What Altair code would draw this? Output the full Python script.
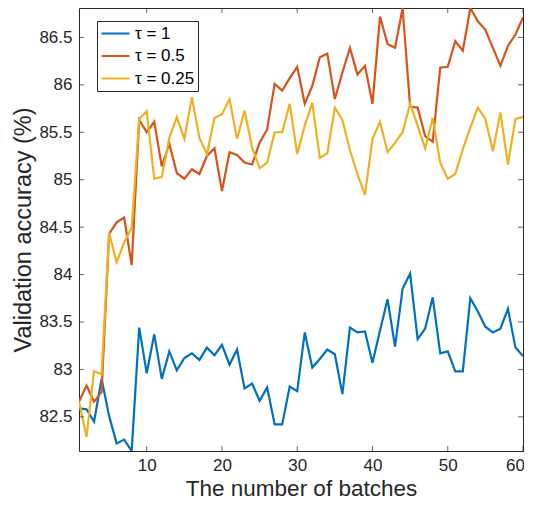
import altair as alt
import pandas as pd

batches = list(range(1, 61))

tau_1 = [82.59, 82.58, 82.45, 82.90, 82.51, 82.22, 82.26, 82.14, 83.44, 82.96,
         83.37, 82.90, 83.19, 82.99, 83.12, 83.17, 83.10, 83.23, 83.15, 83.26,
         83.05, 83.21, 82.80, 82.85, 82.67, 82.81, 82.42, 82.42, 82.82, 82.77,
         83.39, 83.02, 83.11, 83.21, 83.16, 82.74, 83.44, 83.39, 83.40, 83.07,
         83.41, 83.74, 83.24, 83.85, 84.01, 83.32, 83.43, 83.76, 83.17, 83.19,
         82.98, 82.98, 83.75, 83.61, 83.45, 83.39, 83.43, 83.64, 83.23, 83.14]

tau_05 = [82.66, 82.83, 82.66, 82.76, 84.43, 84.55, 84.60, 84.10, 85.63, 85.50,
          85.61, 85.14, 85.38, 85.07, 85.01, 85.11, 85.06, 85.25, 85.33, 84.88,
          85.29, 85.26, 85.18, 85.16, 85.39, 85.53, 86.01, 85.94, 86.07, 86.19,
          85.80, 85.99, 86.29, 86.33, 85.85, 86.13, 86.39, 86.11, 86.20, 85.80,
          86.72, 86.43, 86.39, 86.81, 85.77, 85.76, 85.46, 85.40, 86.18, 86.19,
          86.46, 86.36, 86.81, 86.67, 86.58, 86.39, 86.20, 86.41, 86.53, 86.71]

tau_025 = [82.66, 82.29, 82.98, 82.95, 84.44, 84.13, 84.34, 84.49, 85.64, 85.72,
           85.01, 85.03, 85.44, 85.66, 85.43, 85.87, 85.44, 85.27, 85.65, 85.69,
           85.85, 85.43, 85.73, 85.34, 85.12, 85.18, 85.50, 85.50, 85.80, 85.27,
           85.57, 85.81, 85.23, 85.28, 85.76, 85.63, 85.31, 85.06, 84.84, 85.43,
           85.61, 85.29, 85.39, 85.50, 85.80, 85.57, 85.33, 85.65, 85.18, 85.01,
           85.06, 85.32, 85.55, 85.76, 85.64, 85.30, 85.71, 85.16, 85.64, 85.66]

series_names = ["τ = 1", "τ = 0.5", "τ = 0.25"]
series_colors = ["#0072BD", "#D95319", "#EDB120"]
x_ticks = [10, 20, 30, 40, 50, 60]
y_ticks = [82.5, 83, 83.5, 84, 84.5, 85, 85.5, 86, 86.5]
x_domain = [1, 60]
y_domain = [82.14, 86.81]

rows = []
for name, vals in zip(series_names, [tau_1, tau_05, tau_025]):
    for b, v in zip(batches, vals):
        rows.append({"batch": b, "acc": v, "series": name})
df = pd.DataFrame(rows)

W, H = 444, 443
FONT = "Liberation Sans"
INK = "#262626"

x_enc = alt.X("batch:Q", scale=alt.Scale(domain=x_domain, nice=False, zero=False),
              axis=alt.Axis(values=x_ticks, title="The number of batches"))
y_enc = alt.Y("acc:Q", scale=alt.Scale(domain=y_domain, nice=False, zero=False),
              axis=alt.Axis(values=y_ticks, format="~g", title="Validation accuracy (%)"))

color_enc = alt.Color(
    "series:N",
    scale=alt.Scale(domain=series_names, range=series_colors),
    legend=alt.Legend(title=None, orient="none", legendX=18, legendY=13),
)

base = alt.Chart(df).mark_line(strokeWidth=2.2, clip=True).encode(
    x=x_enc, y=y_enc, color=color_enc
)
lines = [base.transform_filter(alt.datum.series == n) for n in series_names]

xt = pd.DataFrame({"batch": x_ticks})
yt = pd.DataFrame({"acc": y_ticks})

tick_bottom = alt.Chart(xt).mark_tick(size=5, thickness=1, color=INK).encode(
    x=x_enc, y=alt.value(H - 2.5))
tick_top = alt.Chart(xt).mark_tick(size=5, thickness=1, color=INK).encode(
    x=x_enc, y=alt.value(2.5))
tick_left = alt.Chart(yt).mark_tick(size=5, thickness=1, color=INK).encode(
    y=y_enc, x=alt.value(2.5))
tick_right = alt.Chart(yt).mark_tick(size=5, thickness=1, color=INK).encode(
    y=y_enc, x=alt.value(W - 2.5))

chart = alt.layer(*lines, tick_bottom, tick_top, tick_left, tick_right).properties(
    width=W, height=H,
    autosize=alt.AutoSizeParams(type="none"),
    padding={"left": 71, "top": 0, "right": 1, "bottom": 49},
).configure_view(
    stroke=INK, strokeWidth=1
).configure_axis(
    grid=False, domain=False, ticks=False, tickSize=0,
    labelFlush=True, labelFlushOffset=1.5,
    labelFont=FONT, labelFontSize=17, labelColor=INK,
    titleFont=FONT, titleColor=INK, titleFontWeight="normal",
).configure_axisX(
    labelPadding=6.5, titleY=44, titleBaseline="alphabetic", titleFontSize=22.5,
).configure_axisY(
    labelPadding=7, titleX=-49, titleBaseline="alphabetic", titleFontSize=23.5,
).configure_legend(
    fillColor="white", strokeColor=INK, padding=3,
    symbolType="stroke", symbolStrokeWidth=2.2, symbolSize=784,
    clipHeight=19, rowPadding=3.5,
    labelFont=FONT, labelFontSize=17, labelColor="black", labelOffset=4,
)

chart.save("out.html", embed_options={"renderer": "svg", "actions": False})
